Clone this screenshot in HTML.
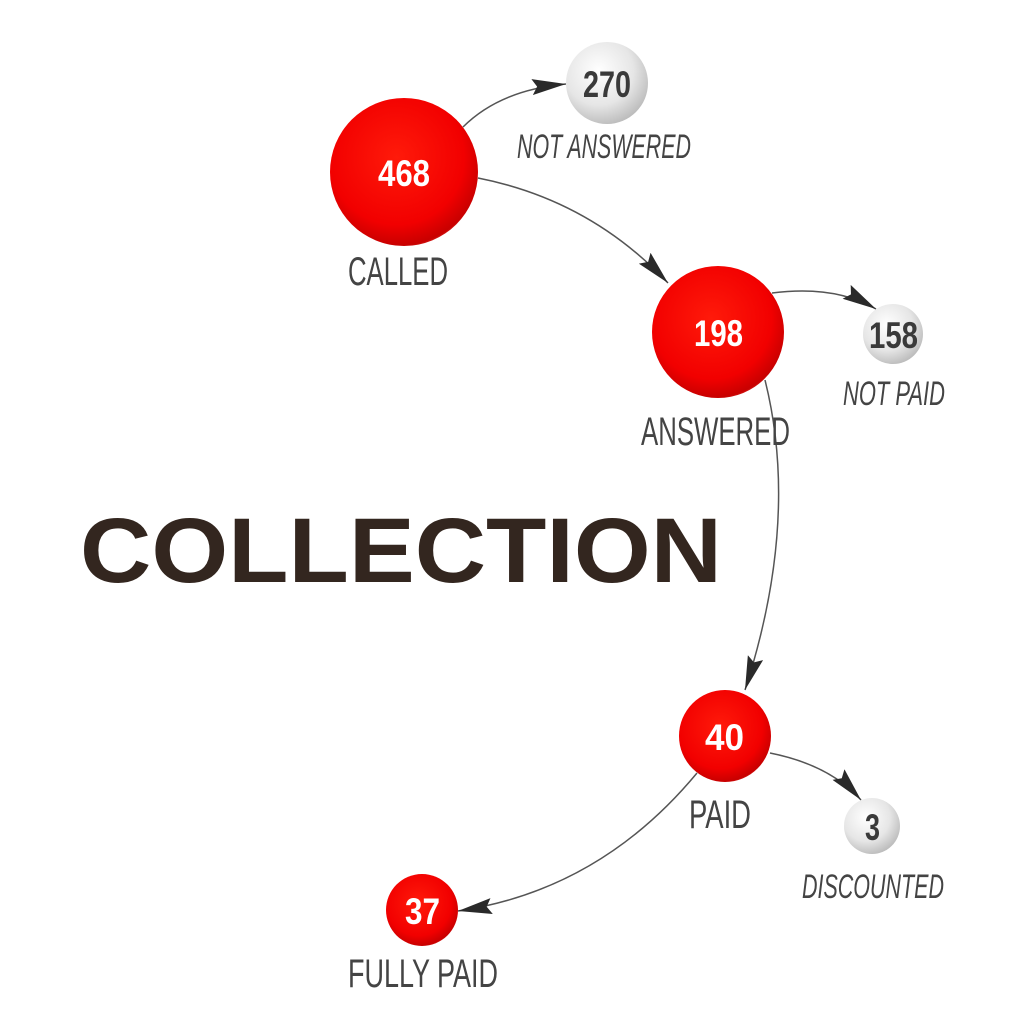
<!DOCTYPE html>
<html><head><meta charset="utf-8"><style>
html,body{margin:0;padding:0;background:#fff;}
svg{display:block}
.lab{font-family:"Liberation Sans",sans-serif;fill:#444;}
.num{font-family:"Liberation Sans",sans-serif;font-weight:bold;}
</style></head><body>
<svg width="1024" height="1024" viewBox="0 0 1024 1024" xmlns="http://www.w3.org/2000/svg">
<defs>
<radialGradient id="red" cx="0.45" cy="0.4" r="0.65">
<stop offset="0" stop-color="#ff1a0a"/><stop offset="0.7" stop-color="#f20000"/><stop offset="0.92" stop-color="#c80000"/><stop offset="1" stop-color="#e84a40"/>
</radialGradient>
<radialGradient id="grey" cx="0.4" cy="0.35" r="0.7">
<stop offset="0" stop-color="#ffffff"/><stop offset="0.6" stop-color="#e6e6e6"/><stop offset="1" stop-color="#b8b8b8"/>
</radialGradient>
<marker id="ar" viewBox="0 0 34 16" refX="34" refY="8" markerWidth="34" markerHeight="16" markerUnits="userSpaceOnUse" orient="auto">
<path d="M0,0 L34,8 L0,16 L5,8 Z" fill="#2a2a2a"/>
</marker>
</defs>
<g fill="none" stroke="#555" stroke-width="1.5" marker-end="url(#ar)">
<path d="M463,127 Q500,90 566,84"/>
<path d="M478,178 Q590,200 668,283"/>
<path d="M772,293 Q835,285 876,309"/>
<path d="M765,380 Q800,520 745,690"/>
<path d="M770,753 Q830,765 861,800"/>
<path d="M697,773 Q600,890 458,911"/>
</g>
<circle cx="404" cy="172" r="74" fill="url(#red)"/>
<circle cx="607" cy="83" r="41" fill="url(#grey)"/>
<circle cx="718" cy="332" r="66" fill="url(#red)"/>
<circle cx="893" cy="334" r="30" fill="url(#grey)"/>
<circle cx="725" cy="736" r="46" fill="url(#red)"/>
<circle cx="872" cy="826" r="28" fill="url(#grey)"/>
<circle cx="422" cy="910" r="36" fill="url(#red)"/>
<g class="num" fill="#fff">
<text x="378" y="186" font-size="37" textLength="52" lengthAdjust="spacingAndGlyphs">468</text>
<text x="694" y="346" font-size="37" textLength="49" lengthAdjust="spacingAndGlyphs">198</text>
<text x="705" y="750" font-size="37" textLength="39" lengthAdjust="spacingAndGlyphs">40</text>
<text x="405" y="924" font-size="37" textLength="35" lengthAdjust="spacingAndGlyphs">37</text>
</g>
<g class="num" fill="#3a3a3a">
<text x="583" y="97" font-size="37" textLength="48" lengthAdjust="spacingAndGlyphs">270</text>
<text x="869" y="348" font-size="37" textLength="49" lengthAdjust="spacingAndGlyphs">158</text>
<text x="865" y="840" font-size="37" textLength="15" lengthAdjust="spacingAndGlyphs">3</text>
</g>
<g class="lab" font-size="40">
<text x="348" y="285" textLength="100" lengthAdjust="spacingAndGlyphs">CALLED</text>
<text x="641" y="445" textLength="149" lengthAdjust="spacingAndGlyphs">ANSWERED</text>
<text x="689" y="828" textLength="62" lengthAdjust="spacingAndGlyphs">PAID</text>
<text x="348" y="987" textLength="150" lengthAdjust="spacingAndGlyphs">FULLY PAID</text>
</g>
<g class="lab" font-size="34" font-style="italic">
<text x="517" y="158" textLength="174" lengthAdjust="spacingAndGlyphs">NOT ANSWERED</text>
<text x="843" y="405" textLength="102" lengthAdjust="spacingAndGlyphs">NOT PAID</text>
<text x="802" y="898" textLength="142" lengthAdjust="spacingAndGlyphs">DISCOUNTED</text>
</g>
<text x="80" y="582" font-family="Liberation Sans,sans-serif" font-weight="bold" font-size="92" fill="#33261f" textLength="642" lengthAdjust="spacingAndGlyphs">COLLECTION</text>
</svg>
</body></html>
